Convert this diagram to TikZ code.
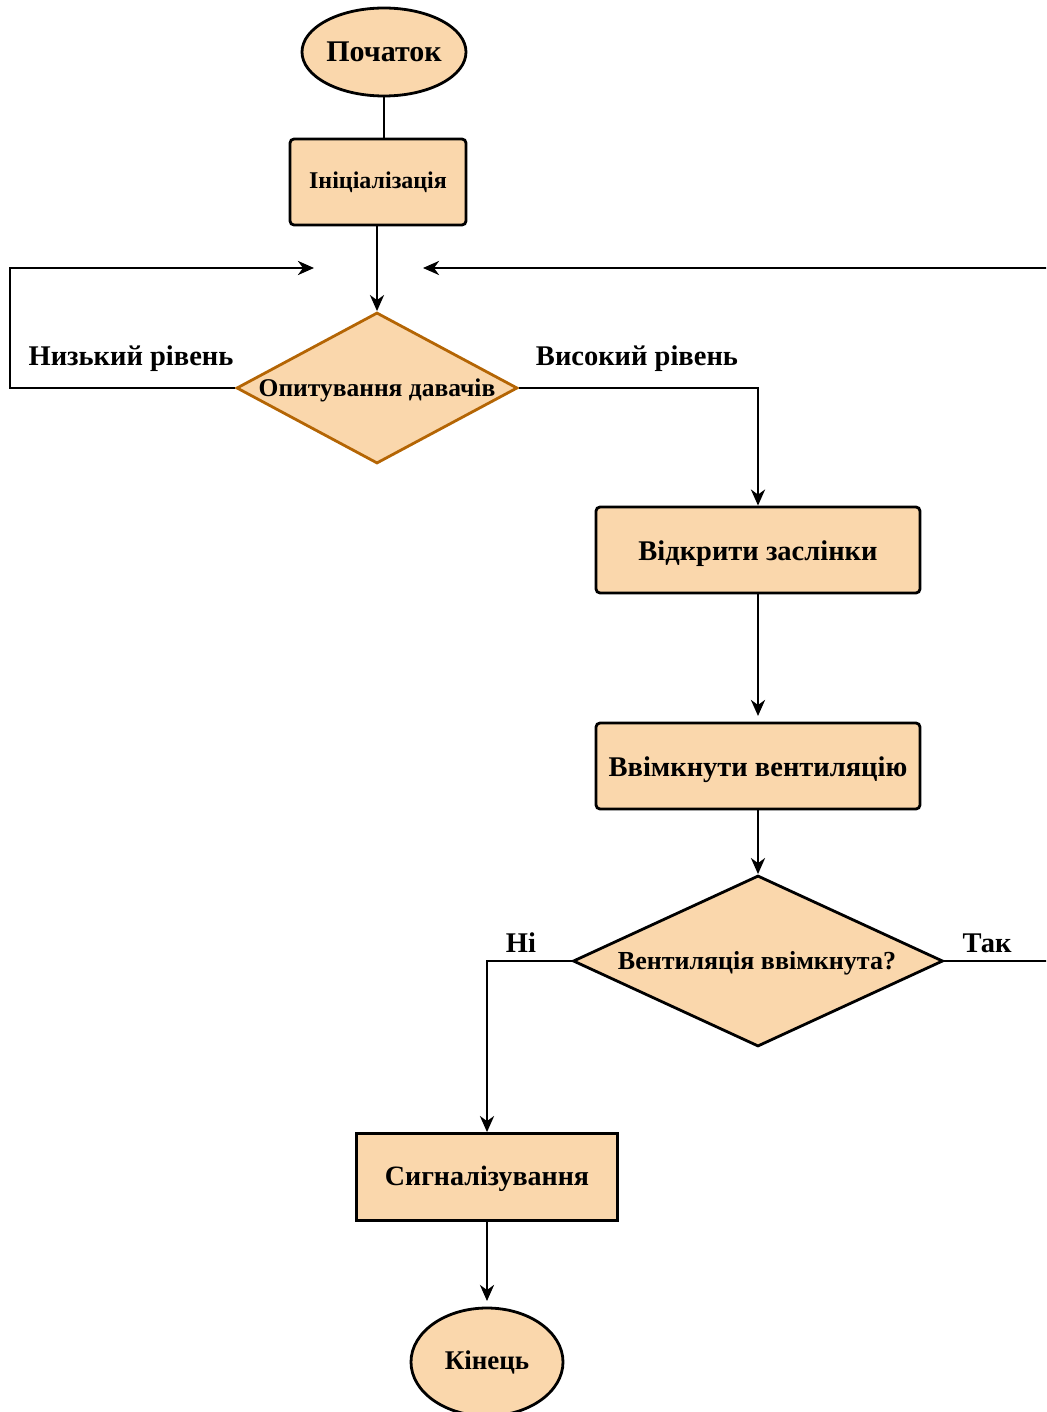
\documentclass[tikz,border=0pt]{standalone}
\usepackage{fontspec}
\setmainfont{Liberation Serif}
\usetikzlibrary{shapes.geometric,arrows.meta}
\definecolor{fillor}{HTML}{FAD7AC}
\definecolor{strokeor}{HTML}{B46504}
\newcommand{\fsz}[1]{\bfseries\fontsize{#1}{#1}\selectfont}
\begin{document}
\begin{tikzpicture}[x=1pt,y=-1pt,
  box/.style={draw=black,line width=2.8pt,fill=fillor,rounded corners=4pt,inner sep=0pt,font=\fsz{28.5}},
  term/.style={ellipse,draw=black,line width=2.8pt,fill=fillor,inner sep=0pt},
  dec/.style={diamond,draw=black,line width=2.8pt,fill=fillor,inner sep=0pt},
  txt/.style={inner sep=0pt},
  conn/.style={line width=2.8pt,draw=black},
  arr/.style={conn,-{Stealth[length=16pt,width=14pt,inset=5pt]}},
  lbl/.style={font=\fsz{28.5},inner sep=0pt}]
\useasboundingbox (0,0) rectangle (1046,1412);
\clip (0,0) rectangle (1046,1412);
\node[term,minimum width=164pt,minimum height=88pt,font=\fsz{30}] (start) at (384,52) {Початок};
\node[box,minimum width=176pt,minimum height=86pt,font=\fsz{24}] (init) at (378,182) {Ініціалізація};
\node[dec,draw=strokeor,minimum width=281pt,minimum height=151pt] (poll) at (377,388) {};
\node[txt,font=\fsz{25.5}] (pollt) at (377,390) {Опитування давачів};
\node[box,minimum width=324pt,minimum height=86pt] (open) at (758,550) {};
\node[txt,font=\fsz{28.5}] (opent) at (758,554) {Відкрити заслінки};
\node[box,minimum width=324pt,minimum height=86pt] (vent) at (758,766) {};
\node[txt,font=\fsz{28.5}] (ventt) at (758,770) {Ввімкнути вентиляцію};
\node[dec,minimum width=370pt,minimum height=171pt] (chk) at (758,961) {};
\node[txt,font=\fsz{26}] (chkt) at (757,963) {Вентиляція ввімкнута?};
\node[box,rounded corners=0pt,minimum width=261pt,minimum height=87pt] (alarm) at (487,1177) {};
\node[txt,font=\fsz{28}] (alarmt) at (487,1179) {Сигналізування};
\node[term,minimum width=152pt,minimum height=108pt,font=\fsz{27}] (stop) at (487,1362) {Кінець};

\coordinate (lt) at (314,268);
\coordinate (rt) at (423,268);
\coordinate (ventin) at (758,716);
\coordinate (stopin) at (487,1301);
\coordinate (edgeA) at (1060,961);
\coordinate (edgeB) at (1060,268);

\draw[conn] (start.south) -- (start.south |- init.north);
\draw[arr] (init.south -| poll.north) -- (poll.north);
\draw[arr] (poll.west) -- (10,388) -- (10,268) -- (lt);
\draw[arr] (poll.east) -- (open.north |- poll.east) -- (open.north);
\draw[arr] (open.south) -- (ventin);
\draw[arr] (vent.south) -- (chk.north);
\draw[arr] (chk.west) -- (alarm.north |- chk.west) -- (alarm.north);
\draw[arr] (alarm.south) -- (stopin);
\draw[arr] (chk.east) -- (edgeA) -- (edgeB) -- (rt);

\node[lbl] (lblow) at (131,359) {Низький рівень};
\node[lbl] (lbhigh) at (637,359) {Високий рівень};
\node[lbl] (lbno) at (521,943) {Ні};
\node[lbl] (lbyes) at (987,943) {Так};
\end{tikzpicture}
\end{document}
